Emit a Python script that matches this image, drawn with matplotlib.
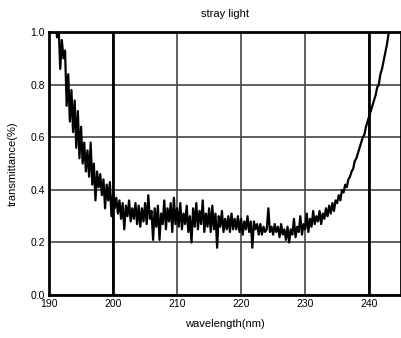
import numpy as np
import matplotlib.pyplot as plt


# =====================================
# Data
# =====================================

START_NM = 191.0
STEP_NM = 0.25

# transmittance, one value every 0.25 nm from 191.0 nm
transmittance = [
    1.05, 0.98, 1.02, 0.86,
    0.97, 0.90, 0.93, 0.72,
    0.84, 0.66, 0.78, 0.62,
    0.74, 0.56, 0.70, 0.52,
    0.64, 0.50, 0.58, 0.47,
    0.55, 0.45, 0.58, 0.42,
    0.50, 0.36, 0.47, 0.41,
    0.46, 0.38, 0.44, 0.33,
    0.42, 0.36, 0.43, 0.30,
    0.39, 0.33, 0.37, 0.31,
    0.36, 0.29, 0.35, 0.25,
    0.34, 0.30, 0.36, 0.28,
    0.33, 0.29, 0.35, 0.27,
    0.34, 0.26, 0.33, 0.28,
    0.35, 0.27, 0.38, 0.29,
    0.32, 0.21, 0.33, 0.26,
    0.34, 0.21, 0.31, 0.27,
    0.36, 0.25, 0.33, 0.28,
    0.35, 0.24, 0.37, 0.27,
    0.33, 0.26, 0.35, 0.25,
    0.31, 0.27, 0.34, 0.24,
    0.30, 0.20, 0.33, 0.26,
    0.35, 0.25, 0.32, 0.27,
    0.36, 0.24, 0.31, 0.26,
    0.33, 0.24, 0.34, 0.25,
    0.31, 0.18, 0.30, 0.26,
    0.32, 0.24, 0.29, 0.25,
    0.30, 0.24, 0.31, 0.25,
    0.29, 0.25, 0.30, 0.24,
    0.29, 0.23, 0.28, 0.25,
    0.30, 0.24, 0.28, 0.18,
    0.28, 0.25, 0.27, 0.23,
    0.27, 0.23, 0.26, 0.24,
    0.25, 0.33, 0.24, 0.26,
    0.23, 0.27, 0.24, 0.26,
    0.22, 0.27, 0.23, 0.25,
    0.21, 0.26, 0.20, 0.25,
    0.23, 0.29, 0.22, 0.26,
    0.24, 0.30, 0.23, 0.27,
    0.25, 0.31, 0.24, 0.29,
    0.26, 0.32, 0.27, 0.30,
    0.28, 0.32, 0.27, 0.31,
    0.29, 0.33, 0.30, 0.34,
    0.31, 0.35, 0.32, 0.36,
    0.35, 0.38, 0.36, 0.40,
    0.39, 0.42, 0.41, 0.44,
    0.45, 0.47, 0.48, 0.51,
    0.52, 0.54, 0.56, 0.58,
    0.60, 0.61, 0.64, 0.66,
    0.68, 0.70, 0.72, 0.74,
    0.76, 0.79, 0.80, 0.84,
    0.86, 0.89, 0.92, 0.95,
    0.99, 1.02,
]

wavelength = START_NM + STEP_NM * np.arange(len(transmittance))

x_ticks = [190, 200, 210, 220, 230, 240]
y_ticks = [0.0, 0.2, 0.4, 0.6, 0.8, 1.0]
major_lines = [200, 240]


# =====================================
# Plot
# =====================================

plt.rcParams['font.family'] = ['Liberation Sans', 'DejaVu Sans']

fig = plt.figure(figsize=(4.02, 3.38), dpi=100)
ax = fig.add_axes([0.122, 0.127, 0.876, 0.778])

ax.plot(wavelength, transmittance, color='black', linewidth=1.6)

ax.set_xlim(190, 245)
ax.set_ylim(0.0, 1.0)

ax.set_xticks(x_ticks)
ax.set_yticks(y_ticks)
ax.set_xticklabels([str(t) for t in x_ticks])
ax.set_yticklabels([f"{t:.1f}" for t in y_ticks])
ax.tick_params(length=0, labelsize=7.5, pad=3)

ax.grid(True, color='#444444', linewidth=1.2)
for x in major_lines:
    ax.axvline(x, color='black', linewidth=2.0)

for side in ax.spines.values():
    side.set_linewidth(2.0)
    side.set_color('black')

ax.set_title("stray light", fontsize=8, pad=11)
ax.set_xlabel("wavelength(nm)", fontsize=8, labelpad=7)
ax.set_ylabel("transmittance(%)", fontsize=8, labelpad=9)

fig.savefig("out.png", dpi=100)
